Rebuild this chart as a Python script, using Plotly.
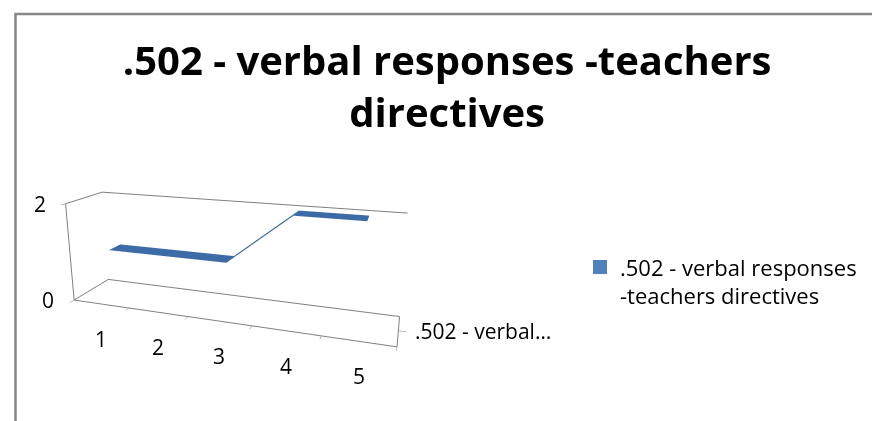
import plotly.graph_objects as go

# ---- data ----
categories = [1, 2, 3, 4, 5]
values = [1, 1, 1, 2, 2]
series_name = ".502 - verbal responses -teachers directives"
series_tick = ".502 - verbal…"
value_ticks = [0, 2]
category_bounds = [0.5, 1.5, 2.5, 3.5, 4.5, 5.5]
title_text = ".502 - verbal responses -teachers<br>directives"
legend_text = ".502 - verbal responses<br>-teachers directives"

ribbon_depth = [0.33, 0.67]

fig = go.Figure()

fig.add_trace(go.Surface(
    x=categories,
    y=ribbon_depth,
    z=[values for _ in ribbon_depth],
    colorscale=[[0, "#3D6BA5"], [1, "#3D6BA5"]],
    showscale=False,
    lighting=dict(ambient=1, diffuse=0, specular=0, fresnel=0),
    hoverinfo="skip",
    name=series_name,
))

# legend entry
fig.add_trace(go.Scatter(
    x=[None], y=[None], mode="markers",
    marker=dict(symbol="square", size=14, color="#4F81BD"),
    name=legend_text,
    showlegend=True,
))

axis_common = dict(
    showbackground=False,
    gridcolor="#808080",
    gridwidth=2,
    linecolor="#808080",
    linewidth=2,
    showline=True,
    zeroline=False,
    title=dict(text=""),
    showticklabels=False,
    tickcolor="#808080",
    ticklen=6,
    showspikes=False,
)

tick_font = dict(family="Open Sans", size=21, color="#000000")
annotations = []
for c in categories:
    annotations.append(dict(x=c, y=0, z=0, text=str(c), showarrow=False,
                            xanchor="center", yanchor="top", yshift=-19, font=tick_font))
for v in value_ticks:
    annotations.append(dict(x=0.5, y=0, z=v, text=str(v), showarrow=False,
                            xanchor="right", yanchor="middle", xshift=-18, font=tick_font))
annotations.append(dict(x=5.5, y=0.5, z=0, text=series_tick, showarrow=False,
                        xanchor="left", yanchor="middle", xshift=14, font=tick_font))

cx, cz = 0.116, 0.27
fig.update_layout(
    width=880, height=421,
    margin=dict(l=0, r=0, t=0, b=0),
    paper_bgcolor="white",
    plot_bgcolor="white",
    title=dict(
        text=title_text,
        x=0.499, xanchor="center",
        y=0.84, yanchor="top",
        font=dict(family="Open Sans", size=40, color="#000000", weight="bold"),
    ),
    xaxis=dict(visible=False),
    yaxis=dict(visible=False),
    scene=dict(
        domain=dict(x=[0.0, 0.546], y=[0.0, 1.0]),
        xaxis=dict(axis_common, range=[0.5, 5.5], tickvals=category_bounds, showgrid=False, ticks="outside"),
        yaxis=dict(axis_common, range=[0, 1], tickvals=[0.5], showgrid=False, ticks="outside"),
        zaxis=dict(axis_common, range=[0, 2], tickvals=value_ticks, showgrid=True, ticks="outside"),
        aspectmode="manual",
        aspectratio=dict(x=2.05, y=0.4, z=0.65),
        camera=dict(
            eye=dict(x=0.915 + cx, y=-2.815, z=0.738 + cz),
            center=dict(x=cx, y=0, z=cz),
            up=dict(x=0, y=0, z=1),
            projection=dict(type="perspective"),
        ),
        bgcolor="white",
        annotations=annotations,
    ),
    legend=dict(
        x=0.65, y=0.35, xanchor="left", yanchor="middle",
        font=dict(family="Open Sans", size=22, color="#000000"),
        valign="top",
        bgcolor="rgba(0,0,0,0)",
        itemwidth=30,
    ),
    showlegend=True,
    shapes=[dict(
        type="rect", xref="paper", yref="paper",
        x0=7.5 / 880, x1=1.05, y0=-0.05, y1=1 - 6 / 421,
        line=dict(color="#878787", width=2.5),
        fillcolor="rgba(0,0,0,0)",
    )],
)

fig.write_html("out.html")
